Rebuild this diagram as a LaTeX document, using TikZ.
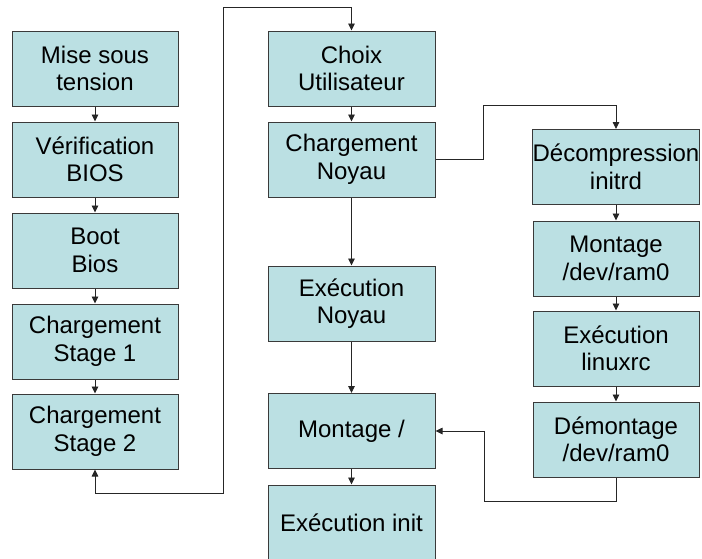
\documentclass[tikz,border=0pt]{standalone}
\usepackage{fontspec}
\setmainfont{Liberation Sans}
\usetikzlibrary{arrows.meta}
\definecolor{boxfill}{HTML}{BBE0E3}
\definecolor{boxline}{HTML}{3A3A3A}
\tikzset{
  stepbox/.style={draw=boxline, line width=1pt, fill=boxfill, rectangle,
    minimum width=166pt, minimum height=75pt, inner sep=0pt, align=center,
    font=\fontsize{24}{27.5}\selectfont},
  conn/.style={draw=black!85, line width=0.9pt, -{Triangle[length=7pt,width=6.5pt]}},
}
\begin{document}
\begin{tikzpicture}[x=1pt,y=-1pt]
\useasboundingbox (0,0) rectangle (702,558);
\begin{scope}
\clip (0,0) rectangle (702,558);
% left column
\node[stepbox] (a1) at (95,68.5) {Mise sous\\tension};
\node[stepbox] (a2) at (95,159.5) {Vérification\\BIOS};
\node[stepbox] (a3) at (95,250.5) {Boot\\Bios};
\node[stepbox] (a4) at (95,341.5) {Chargement\\Stage 1};
\node[stepbox] (a5) at (95,431.5) {Chargement\\Stage 2};
% middle column
\node[stepbox, minimum width=167pt] (b1) at (351.5,68.5) {Choix\\Utilisateur};
\node[stepbox, minimum width=167pt] (b2) at (351.5,159.5) {Chargement\\Noyau};
\node[stepbox, minimum width=167pt] (b3) at (351.5,303.5) {Exécution\\Noyau};
\node[stepbox, minimum width=167pt] (b4) at (351.5,431) {Montage /};
\node[stepbox, minimum width=167pt] (b5) at (351.5,522.5) {Exécution init};
% right column
\node[stepbox] (c1) at (616,167) {Décompression\\initrd};
\node[stepbox] (c2) at (616,258.5) {Montage\\/dev/ram0};
\node[stepbox] (c3) at (616,348.5) {Exécution\\linuxrc};
\node[stepbox] (c4) at (616,439.5) {Démontage\\/dev/ram0};
% connectors
\draw[conn] (a1) -- (a2);
\draw[conn] (a2) -- (a3);
\draw[conn] (a3) -- (a4);
\draw[conn] (a4) -- (a5);
\draw[conn] (b1) -- (b2);
\draw[conn] (b2) -- (b3);
\draw[conn] (b3) -- (b4);
\draw[conn] (b4) -- (b5);
\draw[conn] (c1) -- (c2);
\draw[conn] (c2) -- (c3);
\draw[conn] (c3) -- (c4);
\coordinate (f1) at (95,493);
\coordinate (f2) at (223,493);
\coordinate (f3) at (223,7);
\coordinate (f4) at (351.5,7);
\draw[conn, {Triangle[length=7pt,width=6.5pt]}-{Triangle[length=7pt,width=6.5pt]}] (a5.south) -- (f1) -- (f2) -- (f3) -- (f4) -- (b1.north);
\coordinate (g1) at (483,159.5);
\coordinate (g2) at (483,105);
\coordinate (g3) at (616,105);
\draw[conn] (b2.east) -- (g1) -- (g2) -- (g3) -- (c1.north);
\coordinate (h1) at (616,501);
\coordinate (h2) at (484,501);
\coordinate (h3) at (484,431);
\draw[conn] (c4.south) -- (h1) -- (h2) -- (h3) -- (b4.east);
\end{scope}
\end{tikzpicture}
\end{document}
